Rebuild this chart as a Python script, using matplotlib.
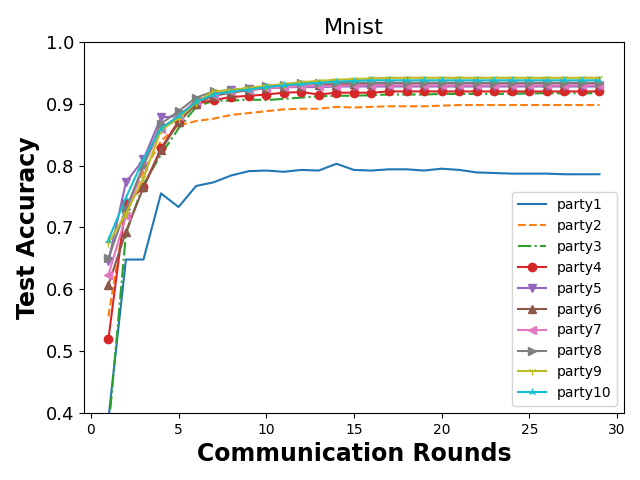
import matplotlib
matplotlib.use('Agg')
import matplotlib.pyplot as plt
import numpy as np

rounds = np.arange(1, 30)

party1 = [0.39, 0.648, 0.648, 0.755, 0.733, 0.767, 0.773, 0.784, 0.791, 0.792,
          0.790, 0.793, 0.792, 0.803, 0.793, 0.792, 0.794, 0.794, 0.792, 0.795,
          0.793, 0.789, 0.788, 0.787, 0.787, 0.787, 0.786, 0.786, 0.786]
party2 = [0.556, 0.730, 0.790, 0.840, 0.865, 0.872, 0.876, 0.882, 0.885, 0.888,
          0.891, 0.892, 0.892, 0.895, 0.894, 0.895, 0.896, 0.896, 0.896, 0.897,
          0.898, 0.898, 0.898, 0.898, 0.898, 0.898, 0.898, 0.898, 0.898]
party3 = [0.37, 0.690, 0.770, 0.818, 0.860, 0.895, 0.905, 0.905, 0.907, 0.906,
          0.908, 0.910, 0.912, 0.913, 0.913, 0.914, 0.915, 0.915, 0.915, 0.916,
          0.916, 0.916, 0.916, 0.916, 0.917, 0.917, 0.917, 0.917, 0.917]
party4 = [0.519, 0.739, 0.765, 0.828, 0.872, 0.900, 0.906, 0.911, 0.913, 0.915,
          0.918, 0.919, 0.915, 0.918, 0.918, 0.918, 0.920, 0.920, 0.920, 0.920,
          0.920, 0.920, 0.920, 0.920, 0.920, 0.920, 0.920, 0.920, 0.920]
party5 = [0.645, 0.773, 0.810, 0.878, 0.880, 0.905, 0.915, 0.922, 0.924, 0.926,
          0.927, 0.927, 0.927, 0.928, 0.928, 0.928, 0.928, 0.928, 0.928, 0.928,
          0.928, 0.928, 0.928, 0.928, 0.928, 0.928, 0.928, 0.928, 0.928]
party6 = [0.607, 0.693, 0.765, 0.825, 0.870, 0.900, 0.913, 0.918, 0.922, 0.925,
          0.927, 0.929, 0.930, 0.931, 0.932, 0.932, 0.933, 0.933, 0.933, 0.933,
          0.933, 0.933, 0.933, 0.933, 0.933, 0.933, 0.933, 0.933, 0.933]
party7 = [0.623, 0.718, 0.800, 0.860, 0.880, 0.905, 0.915, 0.920, 0.923, 0.925,
          0.927, 0.928, 0.929, 0.929, 0.930, 0.930, 0.930, 0.930, 0.930, 0.930,
          0.930, 0.930, 0.930, 0.930, 0.930, 0.930, 0.930, 0.930, 0.930]
party8 = [0.650, 0.730, 0.800, 0.868, 0.888, 0.910, 0.920, 0.922, 0.925, 0.928,
          0.931, 0.934, 0.934, 0.934, 0.934, 0.934, 0.934, 0.934, 0.934, 0.934,
          0.934, 0.934, 0.934, 0.934, 0.934, 0.934, 0.934, 0.934, 0.934]
party9 = [0.675, 0.722, 0.780, 0.858, 0.876, 0.902, 0.920, 0.922, 0.926, 0.929,
          0.932, 0.935, 0.937, 0.939, 0.940, 0.941, 0.942, 0.942, 0.942, 0.942,
          0.942, 0.942, 0.942, 0.942, 0.942, 0.942, 0.942, 0.942, 0.942]
party10 = [0.680, 0.748, 0.810, 0.860, 0.880, 0.903, 0.915, 0.920, 0.923, 0.927,
           0.930, 0.932, 0.934, 0.936, 0.937, 0.938, 0.938, 0.938, 0.938, 0.938,
           0.938, 0.938, 0.938, 0.938, 0.938, 0.938, 0.938, 0.938, 0.938]

series = [party1, party2, party3, party4, party5,
          party6, party7, party8, party9, party10]
names = ['party%d' % (i + 1) for i in range(10)]
styles = [('-', None), ('--', None), ('-.', None), ('-', 'o'), ('-', 'v'),
          ('-', '^'), ('-', '<'), ('-', '>'), ('-', '1'), ('-', '2')]

fig, ax = plt.subplots(figsize=(6.4, 4.8), dpi=100)
for vals, name, (ls, mk) in zip(series, names, styles):
    ax.plot(rounds, vals, linestyle=ls, marker=mk, label=name)

ax.set_ylim(0.4, 1.0)
ax.set_title('Mnist', fontsize=16)
ax.set_xlabel('Communication Rounds', fontsize=17, fontweight='bold')
ax.set_ylabel('Test Accuracy', fontsize=17, fontweight='bold')
ax.tick_params(axis='y', labelsize=13)
ax.tick_params(axis='x', labelsize=10)
ax.legend(loc='lower right')
fig.subplots_adjust(left=0.131, right=0.975, top=0.9125, bottom=0.14)
fig.savefig('out.png')
